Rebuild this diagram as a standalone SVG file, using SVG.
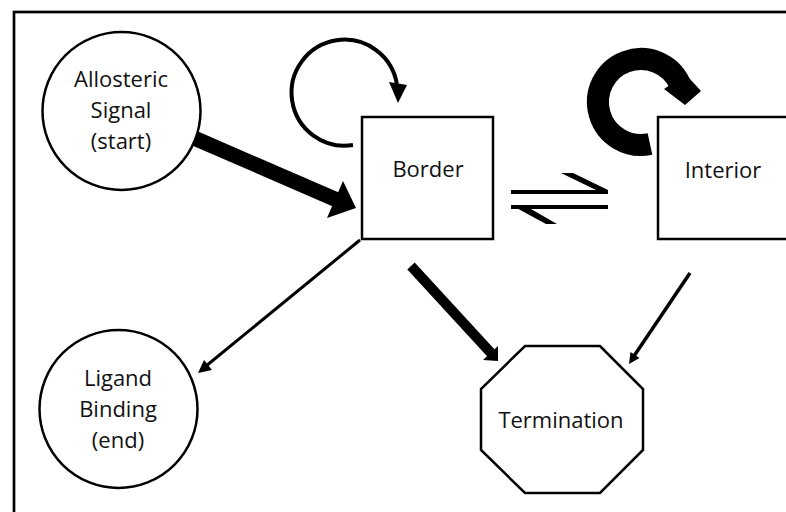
<svg xmlns="http://www.w3.org/2000/svg" width="786" height="512" viewBox="0 0 786 512">
<style>
.node{fill:#fff;stroke:#000;stroke-width:2.5}
.lbl{font-family:"Open Sans","Liberation Sans",sans-serif;font-size:22px;fill:#111;text-anchor:middle}
.ln{stroke:#000;fill:none;stroke-linecap:butt}
.hd{fill:#000;stroke:none}
</style>
<rect x="0" y="0" width="786" height="512" fill="#fff"/>
<rect id="frame" x="14" y="12" width="800" height="520" fill="none" stroke="#000" stroke-width="2.7"/>
<g id="connectors">
  <!-- Allosteric -> Border (thick) -->
  <line class="ln" x1="194" y1="138" x2="337" y2="200" stroke-width="15"/>
  <polygon class="hd" points="343,181 356,208 327,218"/>
  <!-- Border self loop -->
  <path class="ln" d="M 353 145 A 53 53 0 1 1 397 85" stroke-width="4"/>
  <polygon class="hd" points="389,82 407,85 398,103"/>
  <!-- Interior self loop (thick) -->
  <path class="ln" d="M 650 144 A 43 43 0 1 1 680 84" stroke-width="22"/>
  <polygon class="hd" points="664,89 670,85 687,76 690,79 701,91 685,105"/>
  <!-- Equilibrium arrows -->
  <rect x="511" y="190" width="97" height="4" fill="#000"/>
  <polygon class="hd" points="561,173 573,173 608,190 596,190"/>
  <rect x="511" y="205" width="97" height="4" fill="#000"/>
  <polygon class="hd" points="511,205 524,205 557,224 546,224"/>
  <!-- Border -> Ligand -->
  <line class="ln" x1="360" y1="240" x2="206" y2="366" stroke-width="3"/>
  <polygon class="hd" points="212,370 204,360 198,373"/>
  <!-- Border -> Termination (thick) -->
  <line class="ln" x1="411" y1="266" x2="491" y2="353" stroke-width="10"/>
  <polygon class="hd" points="498,346 498,361 483,360"/>
  <!-- Interior -> Termination -->
  <line class="ln" x1="690" y1="273" x2="634" y2="356" stroke-width="3.5"/>
  <polygon class="hd" points="639.5,358 630.5,352 629,364"/>
</g>
<g id="allosteric">
  <circle class="node" cx="121.5" cy="111" r="79"/>
  <text class="lbl" x="121" y="87">Allosteric</text>
  <text class="lbl" x="121" y="118">Signal</text>
  <text class="lbl" x="121" y="149">(start)</text>
</g>
<g id="ligand">
  <circle class="node" cx="118.5" cy="409" r="79"/>
  <text class="lbl" x="118" y="386">Ligand</text>
  <text class="lbl" x="118" y="417">Binding</text>
  <text class="lbl" x="118" y="448">(end)</text>
</g>
<g id="border">
  <rect class="node" x="362" y="117" width="131" height="122"/>
  <text class="lbl" x="428" y="177">Border</text>
</g>
<g id="interior">
  <rect class="node" x="658" y="117" width="140" height="122"/>
  <text class="lbl" x="723" y="178">Interior</text>
</g>
<g id="termination">
  <polygon class="node" points="525,346 600,346 643,389 643,450 600,493 525,493 481,450 481,389"/>
  <text class="lbl" x="561" y="428">Termination</text>
</g>
</svg>
